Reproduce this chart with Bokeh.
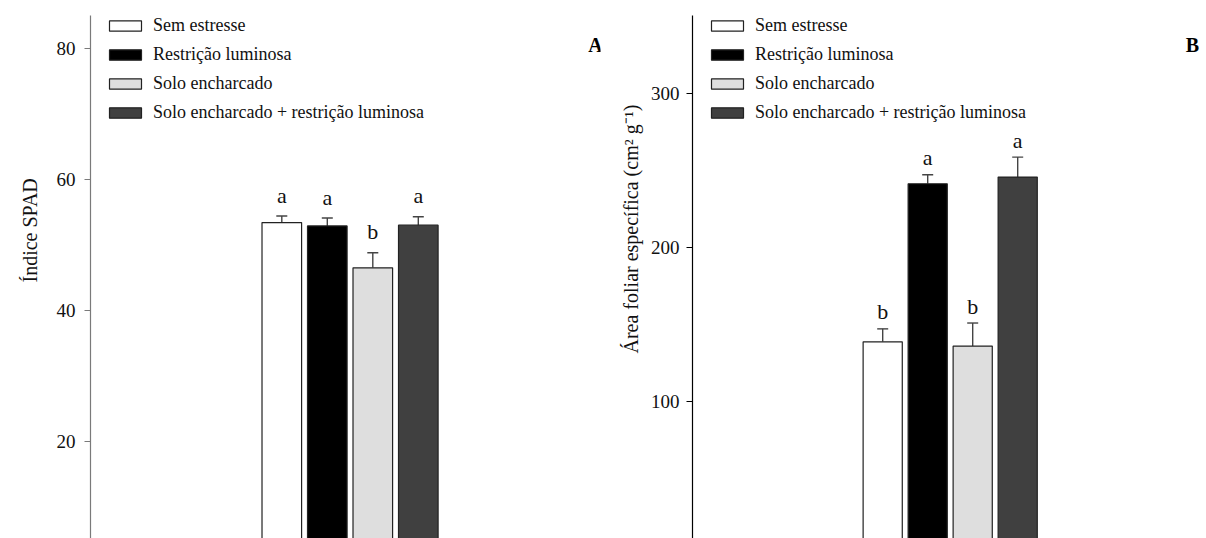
from bokeh.core.properties import value
from bokeh.embed import file_html
from bokeh.layouts import row
from bokeh.models import (ColumnDataSource, FixedTicker, Label, Legend,
                          LegendItem, Range1d, TeeHead, Title, Whisker)
from bokeh.plotting import figure
from bokeh.resources import INLINE

# Treatments and bar fills
treatments = ["Sem estresse", "Restrição luminosa", "Solo encharcado",
              "Solo encharcado + restrição luminosa"]
bar_colors = ["#ffffff", "#000000", "#dedede", "#404040"]

# Panel A: SPAD index
spad_mean = [53.4, 52.9, 46.5, 53.0]
spad_err = [1.0, 1.2, 2.3, 1.3]
spad_letters = ["a", "a", "b", "a"]
spad_ticks = [20, 40, 60, 80]

# Panel B: specific leaf area
afe_mean = [138.5, 241.2, 135.7, 245.5]
afe_err = [8.4, 5.8, 15.0, 13.0]
afe_letters = ["b", "a", "b", "a"]
afe_ticks = [100, 200, 300]

FONT = "Liberation Serif"
W, H = 603, 538


def make_panel(mean, err, letters, ticks, y_lo, y_hi, left, top, pitch,
               first_px, axis_color, ylabel, ylabel_offset, ylabel_standoff,
               tag, tag_px, standoff, letter_gap):
    frame_w = W - left - 3
    x0 = 1 - (first_px - left) / pitch
    x1 = x0 + frame_w / pitch
    per_px = (y_hi - y_lo) / (H - top)

    def px_x(px):
        return x0 + (px - left) / pitch

    def px_y(py):
        return y_hi - (py - top) * per_px

    p = figure(width=W, height=H, x_range=Range1d(x0, x1),
               y_range=Range1d(y_lo, y_hi), x_axis_type=None,
               output_backend="svg", toolbar_location=None,
               min_border_left=left, min_border_right=3,
               min_border_top=top, min_border_bottom=0)
    p.outline_line_color = None
    p.xgrid.grid_line_color = None
    p.ygrid.grid_line_color = None
    p.background_fill_color = "white"
    p.border_fill_color = "white"

    ax = p.yaxis[0]
    ax.ticker = FixedTicker(ticks=ticks)
    ax.axis_line_color = axis_color
    ax.axis_line_width = 1.2
    ax.major_tick_line_color = axis_color
    ax.major_tick_out = 6
    ax.major_tick_in = 0
    ax.minor_tick_line_color = None
    ax.major_label_standoff = standoff
    ax.major_label_text_font = FONT
    ax.major_label_text_font_size = "19px"
    ax.major_label_text_color = "#111111"

    xs = [1, 2, 3, 4]
    upper = [m + e for m, e in zip(mean, err)]
    # letters float a few pixels above the error caps
    letter_y = [u + letter_gap * per_px for u in upper]
    src = ColumnDataSource(dict(x=xs, top=mean, upper=upper, ly=letter_y,
                                color=bar_colors, letter=letters))

    bars = p.vbar(x="x", top="top", bottom=0, width=0.87, source=src,
                  fill_color="color", line_color="#222222", line_width=1.2)

    whisk = Whisker(base="x", lower="top", upper="upper", source=src,
                    line_color="#444444", line_width=1.4,
                    upper_head=TeeHead(size=11, line_color="#444444",
                                       line_width=1.4),
                    lower_head=None)
    p.add_layout(whisk)

    p.text(x="x", y="ly", text="letter", source=src,
           text_font=value(FONT), text_font_size="22px",
           text_align="center", text_baseline="alphabetic",
           text_color="#111111")

    items = [LegendItem(label=t, renderers=[bars], index=i)
             for i, t in enumerate(treatments)]
    legend = Legend(items=items, location=(15, 415), glyph_width=40,
                    glyph_height=13, label_height=13, spacing=8, padding=0,
                    margin=0, label_standoff=8, border_line_color=None,
                    background_fill_alpha=0, label_text_font=FONT,
                    label_text_font_size="18px", label_text_color="#111111")
    p.add_layout(legend)

    p.add_layout(Title(text=ylabel, align="left", offset=ylabel_offset,
                       standoff=ylabel_standoff, text_font=FONT,
                       text_font_size="20px", text_font_style="normal",
                       text_color="#111111"),
                 "left")
    p.add_layout(Label(x=px_x(tag_px[0]), y=px_y(tag_px[1]), text=tag,
                       text_align="center", text_baseline="middle",
                       text_font=FONT, text_font_style="bold",
                       text_font_size="20px", text_color="#000000"))
    return p


pa = make_panel(spad_mean, spad_err, spad_letters, spad_ticks, 5.2, 85.0,
                90, 15, 45.5, 281.3, "#7a7a7a", "Índice SPAD", 256, 26,
                "A", (595, 44), 9, 21)
pb = make_panel(afe_mean, afe_err, afe_letters, afe_ticks, 10.7, 350.5,
                89, 13, 45.0, 279.2, "#000000",
                "Área foliar específica  (cm² g⁻¹)", 185, 12,
                "B", (589, 43), 7, 17)

layout = row(pa, pb)
open("out.html", "w").write(file_html(layout, INLINE))
